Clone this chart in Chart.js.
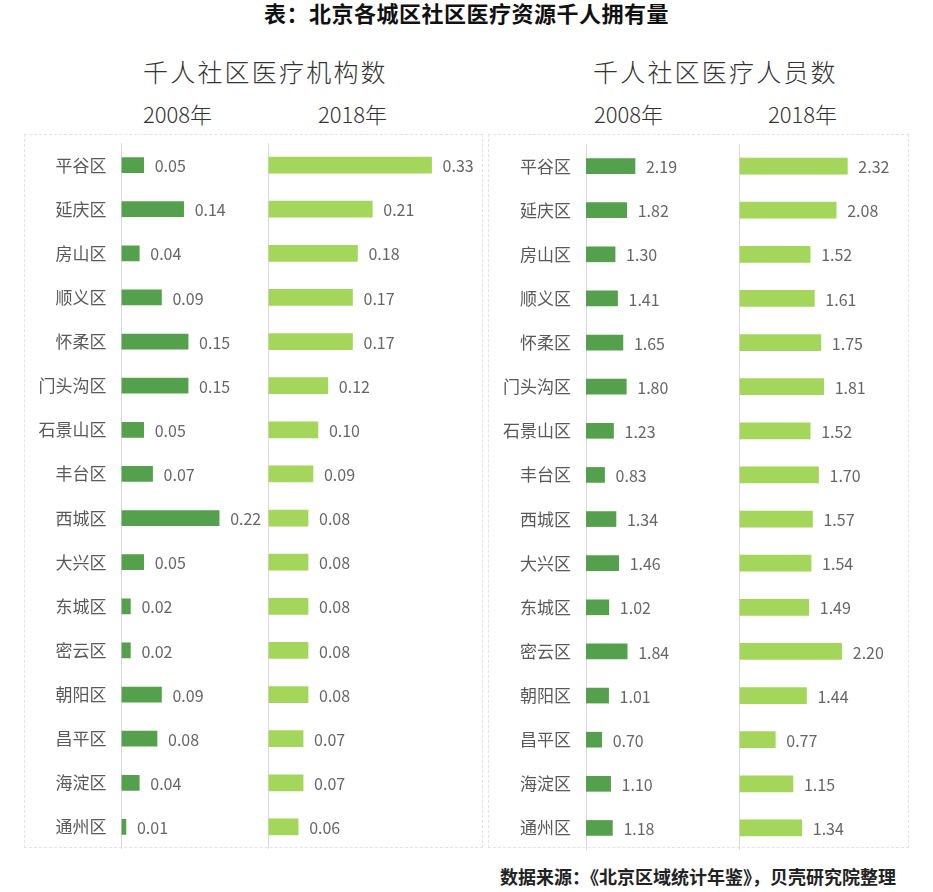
<!DOCTYPE html>
<html>
<head>
<meta charset="utf-8">
<script src="https://cdn.jsdelivr.net/npm/chart.js@4.4.0/dist/chart.umd.min.js"></script>
<style>
  html, body { margin:0; padding:0; background:#fff; }
  body { width:933px; height:892px; position:relative; overflow:hidden; font-family:"Noto Sans CJK SC", sans-serif; }
  .t { position:absolute; white-space:nowrap; line-height:1; }
  .panel { position:absolute; border:1.5px dashed #e3e3e3; box-sizing:border-box; }
  .cv { position:absolute; }
</style>
</head>
<body>
<div class="t" id="title" style="left:0;width:933px;text-align:center;top:1px;font-size:22px;letter-spacing:0.5px;font-weight:bold;color:#111;">表：北京各城区社区医疗资源千人拥有量</div>
<div class="t" style="left:143px;top:59px;font-size:25px;letter-spacing:2.2px;font-weight:300;color:#333;">千人社区医疗机构数</div>
<div class="t" style="left:593px;top:59px;font-size:25px;letter-spacing:2.2px;font-weight:300;color:#333;">千人社区医疗人员数</div>
<div class="t" style="left:143px;top:102px;font-size:22px;font-weight:300;color:#333;">2008年</div>
<div class="t" style="left:318px;top:102px;font-size:22px;font-weight:300;color:#333;">2018年</div>
<div class="t" style="left:594px;top:102px;font-size:22px;font-weight:300;color:#333;">2008年</div>
<div class="t" style="left:768px;top:102px;font-size:22px;font-weight:300;color:#333;">2018年</div>
<div class="panel" style="left:24px;top:134px;width:459px;height:714px;"></div>
<div class="panel" style="left:488px;top:134px;width:421px;height:714px;"></div>
<canvas class="cv" id="c1" style="left:24px;top:143px;" width="244" height="706"></canvas>
<canvas class="cv" id="c2" style="left:268px;top:143px;" width="212" height="706"></canvas>
<canvas class="cv" id="c3" style="left:488px;top:144px;" width="249" height="706"></canvas>
<canvas class="cv" id="c4" style="left:739px;top:144px;" width="166" height="706"></canvas>
<div class="t" style="left:500px;top:867px;font-size:18px;font-weight:bold;color:#222;">数据来源：《北京区域统计年鉴》，贝壳研究院整理</div>
<script>
const districts = ['平谷区','延庆区','房山区','顺义区','怀柔区','门头沟区','石景山区','丰台区','西城区','大兴区','东城区','密云区','朝阳区','昌平区','海淀区','通州区'];
const institutions2008 = [0.05,0.14,0.04,0.09,0.15,0.15,0.05,0.07,0.22,0.05,0.02,0.02,0.09,0.08,0.04,0.01];
const institutions2018 = [0.33,0.21,0.18,0.17,0.17,0.12,0.10,0.09,0.08,0.08,0.08,0.08,0.08,0.07,0.07,0.06];
const staff2008 = [2.19,1.82,1.30,1.41,1.65,1.80,1.23,0.83,1.34,1.46,1.02,1.84,1.01,0.70,1.10,1.18];
const staff2018 = [2.32,2.08,1.52,1.61,1.75,1.81,1.52,1.70,1.57,1.54,1.49,2.20,1.44,0.77,1.15,1.34];

const DARK = '#55a04c';
const LIGHT = '#a3d65a';
const FONT = '"Noto Sans CJK SC", sans-serif';

const valueLabels = {
  id: 'valueLabels',
  afterDatasetsDraw(chart) {
    const ctx = chart.ctx;
    ctx.save();
    ctx.font = '16px ' + FONT;
    ctx.fillStyle = '#666';
    ctx.textAlign = 'left';
    ctx.textBaseline = 'middle';
    const meta = chart.getDatasetMeta(0);
    meta.data.forEach((bar, i) => {
      const v = chart.data.datasets[0].data[i];
      ctx.fillText(v.toFixed(2), bar.x + 11, bar.y + 1);
    });
    ctx.restore();
  }
};

function makeChart(id, values, color, thickness, max, axisWidth, showLabels) {
  new Chart(document.getElementById(id), {
    type: 'bar',
    data: { labels: districts, datasets: [{ data: values, backgroundColor: color, barThickness: thickness, borderWidth: 0 }] },
    options: {
      indexAxis: 'y',
      responsive: false,
      animation: false,
      layout: { padding: 0 },
      plugins: { legend: { display: false }, tooltip: { enabled: false } },
      scales: {
        x: { display: false, min: 0, max: max, afterFit(scale) { scale.paddingLeft = 0; scale.paddingRight = 0; } },
        y: {
          grid: { display: false },
          border: { display: true, color: '#d9d9d9', width: 1 },
          ticks: { display: showLabels, padding: 7, color: '#595959', font: { family: FONT, size: 17 } },
          afterFit(scale) { scale.width = axisWidth; scale.paddingTop = 0; scale.paddingBottom = 0; }
        }
      }
    },
    plugins: [valueLabels]
  });
}

makeChart('c1', institutions2008, DARK, 15, 0.33, 97.5, true);
makeChart('c2', institutions2018, LIGHT, 16, 0.428, 0.5, false);
makeChart('c3', staff2008, DARK, 15, 6.75, 98, true);
makeChart('c4', staff2018, LIGHT, 16, 3.56, 0.5, false);
</script>
</body>
</html>
